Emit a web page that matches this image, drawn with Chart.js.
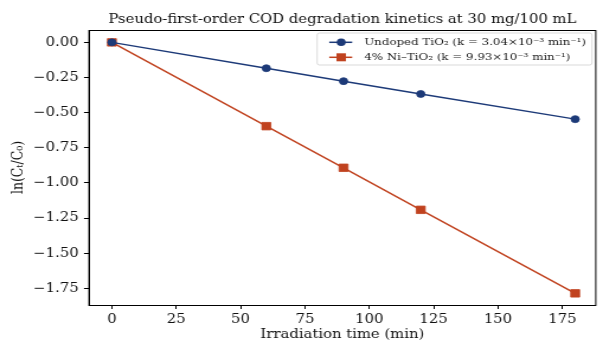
<!DOCTYPE html>
<html><head><meta charset="utf-8">
<script src="https://cdn.jsdelivr.net/npm/chart.js@4"></script>
<style>
html,body{margin:0;padding:0;background:#fff;overflow:hidden;}
#wrap{width:509px;height:341px;transform:scaleX(1.18468);transform-origin:0 0;}
canvas{display:block;width:509px;height:341px;}
</style>
</head><body><div id="wrap"><canvas id="c" width="509" height="341"></canvas></div>
<script>
const timesMin = [0, 60, 90, 120, 180];
const undopedLn = [0, -0.184, -0.276, -0.367, -0.546];
const niLn = [0, -0.596, -0.892, -1.191, -1.785];
const seriesLabels = ['Undoped TiO\u2082 (k = 3.04\u00d710\u207b\u00b3 min\u207b\u00b9)', '4% Ni\u2013TiO\u2082 (k = 9.93\u00d710\u207b\u00b3 min\u207b\u00b9)'];
const xTicks = [0, 25, 50, 75, 100, 125, 150, 175];
const yTicks = [0, -0.25, -0.5, -0.75, -1.0, -1.25, -1.5, -1.75];
const titleText = 'Pseudo-first-order COD degradation kinetics at 30 mg/100 mL';
const xLabel = 'Irradiation time (min)';
const yLabel = 'ln(C\u209c/C\u2080)';

const FONT = "'DejaVu Serif', serif";
const FS = 12.5;
const BLUE = '#1d3a78', RED = '#c0421f';

const frame = {
  id: 'frame',
  afterDraw(chart) {
    const {ctx, chartArea: a} = chart;
    ctx.save();
    ctx.strokeStyle = '#000'; ctx.lineWidth = 1;
    ctx.strokeRect(a.left, Math.round(a.top)+0.5, a.right-a.left, Math.round(a.bottom)-Math.round(a.top));
    // legend (matplotlib style, upper right inside axes)
    const bw = 232, bh = 32, bx = a.right - 3.2 - bw, by = a.top + 3;
    ctx.fillStyle = 'rgba(255,255,255,0.85)';
    ctx.strokeStyle = '#cfcfcf'; ctx.lineWidth = 0.8;
    ctx.beginPath(); ctx.roundRect(bx, by, bw, bh, 2); ctx.fill(); ctx.stroke();
    ctx.font = "10px " + FONT; ctx.textBaseline = 'middle'; ctx.textAlign = 'left';
    chart.data.datasets.forEach((ds, i) => {
      const y = by + 9.3 + i*15;
      ctx.strokeStyle = ds.borderColor; ctx.lineWidth = 1.5;
      ctx.beginPath(); ctx.moveTo(bx+10.2, y); ctx.lineTo(bx+29.6, y); ctx.stroke();
      ctx.fillStyle = ds.pointBackgroundColor;
      if (ds.pointStyle === 'rect') ctx.fillRect(bx+20.3-4, y-4, 8, 8);
      else { ctx.beginPath(); ctx.arc(bx+20.3, y, 3.8, 0, Math.PI*2); ctx.fill(); }
      ctx.fillStyle = '#1a1a1a';
      ctx.fillText(ds.label, bx+39.7, y + 0.5);
    });
    ctx.restore();
  }
};

new Chart(document.getElementById('c'), {
  type: 'line',
  data: {
    datasets: [
      {label: seriesLabels[0], data: timesMin.map((t,i)=>({x:t,y:undopedLn[i]})), borderColor: BLUE, backgroundColor: BLUE, pointBackgroundColor: BLUE, pointBorderColor: BLUE, pointBorderWidth: 0.8, pointStyle: 'circle', pointRadius: 3.5, borderWidth: 1.5},
      {label: seriesLabels[1], data: timesMin.map((t,i)=>({x:t,y:niLn[i]})), borderColor: RED, backgroundColor: RED, pointBackgroundColor: RED, pointBorderColor: RED, pointBorderWidth: 0.8, pointStyle: 'rect', pointRadius: 5.3, borderWidth: 1.5}
    ]
  },
  options: {
    responsive: false, animation: false, devicePixelRatio: 1,
    layout: {padding: {left: 0, right: 2.1, top: 0, bottom: 0}},
    plugins: {
      legend: {display: false}, tooltip: {enabled: false},
      title: {display: true, fullSize: false, text: titleText, color: '#111', font: {family: FONT, size: FS, weight: 'normal', lineHeight: 1.2}, padding: {top: 12, bottom: 3}}
    },
    scales: {
      x: {type: 'linear', min: -8.9, max: 188,
        afterBuildTicks: s => { s.ticks = xTicks.map(v => ({value: v})); },
        afterFit: s => { s.height = 36; },
        ticks: {font: {family: FONT, size: FS}, color: '#111', padding: 3, maxRotation: 0, autoSkip: false},
        grid: {drawOnChartArea: false, drawTicks: true, tickLength: 4, color: '#000'},
        border: {display: true, color: '#000'},
        title: {display: true, text: xLabel, font: {family: FONT, size: FS, lineHeight: 1.0}, color: '#111', padding: {top: 0, bottom: 0}}
      },
      y: {type: 'linear', min: -1.868, max: 0.088,
        afterBuildTicks: s => { s.ticks = yTicks.map(v => ({value: v})); },
        afterFit: s => { s.width = 75.1; },
        ticks: {font: {family: FONT, size: FS}, color: '#111', padding: 4.5, autoSkip: false, callback: v => (v < 0 ? '\u2212' : '') + Math.abs(v).toFixed(2)},
        grid: {drawOnChartArea: false, drawTicks: true, tickLength: 4.2, color: '#000'},
        border: {display: true, color: '#000'},
        title: {display: true, text: yLabel, font: {family: FONT, size: FS, lineHeight: 1.2}, color: '#111', padding: {top: 8, bottom: 0}}
      }
    }
  },
  plugins: [frame]
});
</script></body></html>
